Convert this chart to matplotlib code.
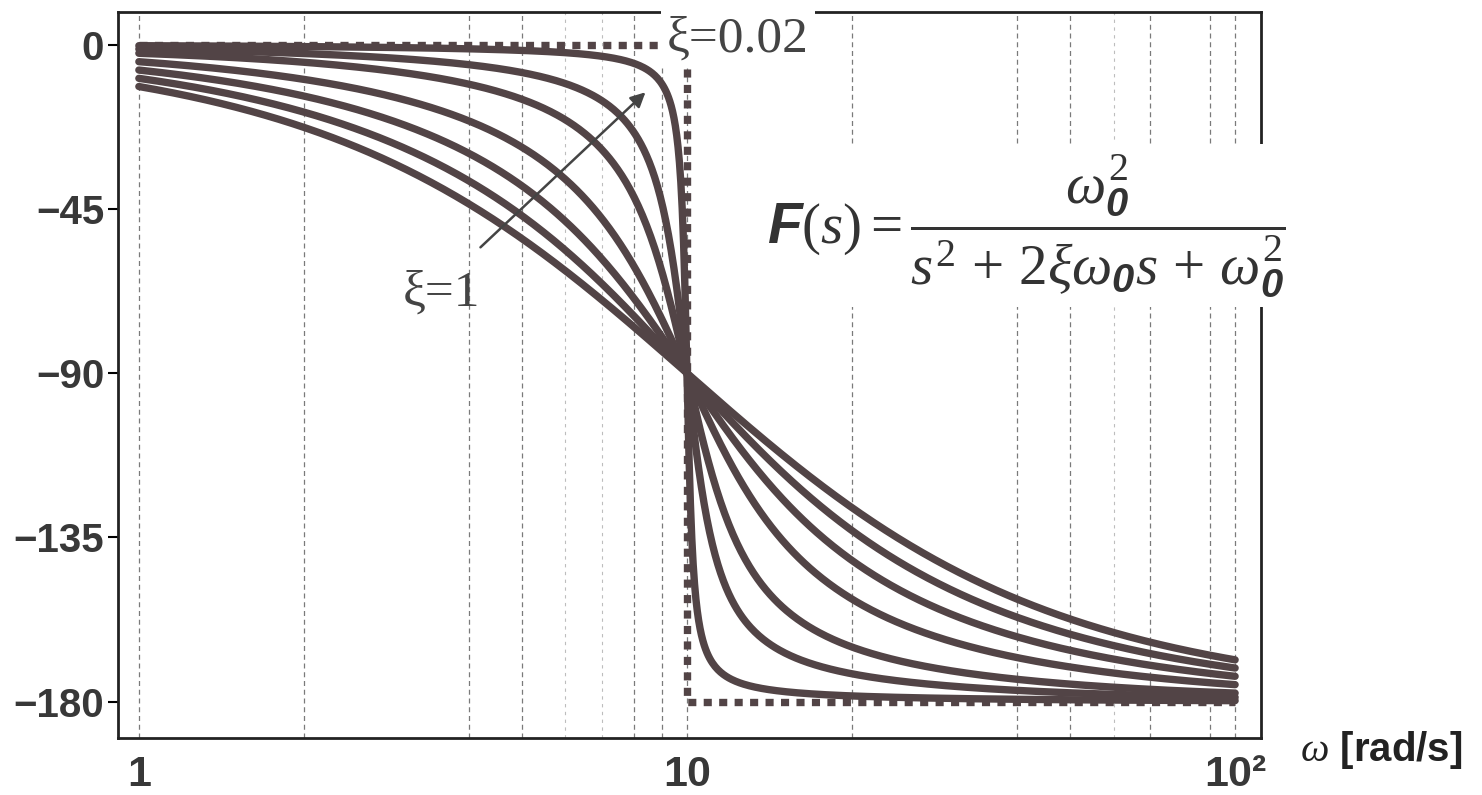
"""Bode phase plot of a second-order low-pass for several damping ratios."""

import matplotlib

matplotlib.use("Agg")
import matplotlib.pyplot as plt
import numpy as np

# damping ratios (solid curves), natural frequency 10 rad/s
XI = [0.02, 0.1, 0.2, 0.4, 0.6, 0.8, 1.0]
W0 = 10.0
# asymptotic (dashed) step
ASYM_W = [1, 10, 10, 100]
ASYM_PHASE = [0, 0, -180, -180]

YTICKS = [0, -45, -90, -135, -180]
YTICKLABELS = ["0", "\u221245", "\u221290", "\u2212135", "\u2212180"]
XTICKS = [1, 10, 100]
XTICKLABELS = ["1", "10", "10\u00b2"]

GRID_DARK = [1, 2, 4, 5, 8, 9, 10, 20, 40, 50, 70, 90, 100]
GRID_LIGHT = [6, 7, 60]

INK = "#524446"

plt.rcParams.update(
    {
        "font.family": ["Liberation Sans", "DejaVu Sans"],
        "mathtext.fontset": "custom",
        "mathtext.rm": "Liberation Serif",
        "mathtext.it": "Liberation Serif:italic",
        "mathtext.bf": "Liberation Sans:italic:bold",
    }
)

fig = plt.figure(figsize=(14.82, 7.95), dpi=100)
ax = fig.add_axes([0.0796, 0.0717, 0.7713, 0.9132])

w = np.logspace(0, 2, 800)
s = 1j * w
for xi in XI:
    F = W0**2 / (s**2 + 2 * xi * W0 * s + W0**2)
    phase = np.unwrap(np.angle(F)) * 180 / np.pi
    ax.plot(w, phase, color=INK, lw=5.3, solid_capstyle="round", zorder=3)

ax.plot(ASYM_W, ASYM_PHASE, color=INK, lw=5.3, ls=(0, (1.1, 1.0)),
        dash_capstyle="butt", zorder=3)

for g in GRID_DARK:
    ax.axvline(g, color="#7a7a7a", lw=0.9, ls=(0, (4, 3)), zorder=1)
for g in GRID_LIGHT:
    ax.axvline(g, color="#bdbdbd", lw=0.8, ls=(0, (3, 4)), zorder=1)

ax.set_xscale("log")
ax.set_xlim(0.916, 111.5)
ax.set_ylim(-190, 9)
ax.set_yticks(YTICKS)
ax.set_yticklabels(YTICKLABELS)
ax.set_xticks(XTICKS)
ax.set_xticklabels(XTICKLABELS)
ax.xaxis.set_minor_locator(matplotlib.ticker.NullLocator())
ax.tick_params(axis="y", length=7, width=1.5, pad=3, labelsize=29, direction="out")
ax.tick_params(axis="x", length=0, pad=12, labelsize=31)
for lab in ax.get_xticklabels() + ax.get_yticklabels():
    lab.set_fontweight("bold")
    lab.set_color("#383838")
for sp in ax.spines.values():
    sp.set_linewidth(2)
    sp.set_color("#222222")

# labels on the curves
ax.text(9.2, 1.5, "\u03be=0.02", fontsize=37, family="Liberation Serif",
        color="#444444", va="center", ha="left", zorder=6, clip_on=False,
        bbox=dict(fc="white", ec="none", pad=4))
ax.text(3.03, -68, "\u03be=1", fontsize=37, family="Liberation Serif",
        color="#444444", va="center", ha="left", zorder=6)
ax.annotate("", xy=(8.4, -13), xytext=(4.2, -55.5),
            arrowprops=dict(arrowstyle="-|>", color="#444444", lw=1.8,
                            mutation_scale=22, shrinkA=0, shrinkB=0),
            zorder=6)

# transfer function
ax.text(14.0, -49.5, r"$\mathbf{F}(s) = \dfrac{\omega_{\mathbf{0}}^{2}}"
        r"{s^{2} \,+\, 2\xi\omega_{\mathbf{0}}s \,+\, \omega_{\mathbf{0}}^{2}}$",
        fontsize=41, color="#333333", va="center", ha="left", zorder=6,
        bbox=dict(fc="white", ec="none", pad=6))

fig.text(1300 / 1482, 1 - 750 / 795, r"$\omega$ [rad/s]", fontsize=29,
         fontweight="bold", color="#222222", va="center", ha="left")

fig.savefig("out.png", dpi=100)
